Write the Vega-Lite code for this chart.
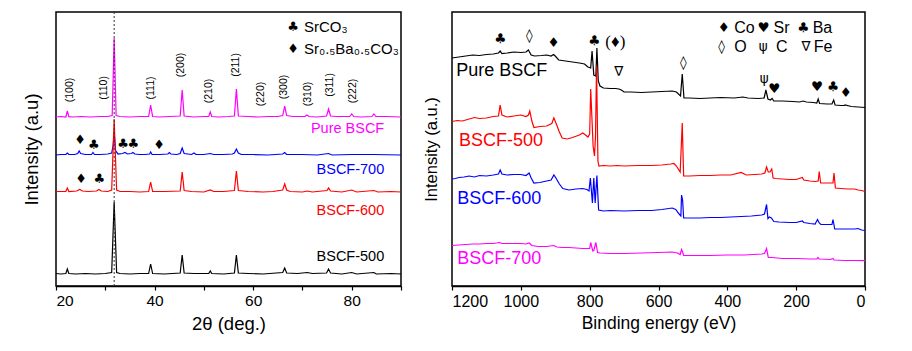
{
"$schema": "https://vega.github.io/schema/vega-lite/v6.json",
"padding": {"left": 21, "top": 10, "right": 5, "bottom": 5},
"bounds": "flush",
"spacing": 51,
"background": "white",
"config": {"font": "Liberation Sans", "view": {"stroke": "black", "strokeWidth": 1.5}, "axis": {"grid": false, "domainColor": "black", "tickColor": "black", "labelColor": "black", "titleColor": "black", "titleFontWeight": "normal", "labelFont": "Liberation Sans", "titleFont": "Liberation Sans"}},
"resolve": {"scale": {"color": "independent"}},
"datasets": {
"xrd": [
{"s":"Pure BSCF","x":20,"y":169},{"s":"Pure BSCF","x":21,"y":169.5},{"s":"Pure BSCF","x":22,"y":169},{"s":"Pure BSCF","x":22.3,"y":175},{"s":"Pure BSCF","x":22.6,"y":169.3},{"s":"Pure BSCF","x":23.5,"y":169},{"s":"Pure BSCF","x":25,"y":169.5},{"s":"Pure BSCF","x":27,"y":169},{"s":"Pure BSCF","x":29,"y":169.5},{"s":"Pure BSCF","x":30.5,"y":169.5},{"s":"Pure BSCF","x":31.4,"y":170.5},{"s":"Pure BSCF","x":31.8,"y":248},{"s":"Pure BSCF","x":32.2,"y":170.5},{"s":"Pure BSCF","x":33,"y":169.5},{"s":"Pure BSCF","x":35,"y":169},{"s":"Pure BSCF","x":37,"y":169.5},{"s":"Pure BSCF","x":38.8,"y":169.5},{"s":"Pure BSCF","x":39.2,"y":181},{"s":"Pure BSCF","x":39.6,"y":169.5},{"s":"Pure BSCF","x":41,"y":169},{"s":"Pure BSCF","x":43,"y":169.5},{"s":"Pure BSCF","x":45.2,"y":170},{"s":"Pure BSCF","x":45.6,"y":196},{"s":"Pure BSCF","x":46,"y":170},{"s":"Pure BSCF","x":48,"y":169},{"s":"Pure BSCF","x":50,"y":169.5},{"s":"Pure BSCF","x":51,"y":169.5},{"s":"Pure BSCF","x":51.3,"y":174},{"s":"Pure BSCF","x":51.6,"y":169.5},{"s":"Pure BSCF","x":53,"y":169},{"s":"Pure BSCF","x":55,"y":169.5},{"s":"Pure BSCF","x":56.2,"y":170},{"s":"Pure BSCF","x":56.6,"y":197},{"s":"Pure BSCF","x":57,"y":170},{"s":"Pure BSCF","x":59,"y":169.5},{"s":"Pure BSCF","x":61,"y":169},{"s":"Pure BSCF","x":63,"y":169.5},{"s":"Pure BSCF","x":65,"y":169.5},{"s":"Pure BSCF","x":66,"y":170.5},{"s":"Pure BSCF","x":66.4,"y":180},{"s":"Pure BSCF","x":66.8,"y":170.5},{"s":"Pure BSCF","x":68,"y":169.5},{"s":"Pure BSCF","x":70.5,"y":169.5},{"s":"Pure BSCF","x":70.9,"y":171},{"s":"Pure BSCF","x":71.3,"y":169.5},{"s":"Pure BSCF","x":73,"y":169},{"s":"Pure BSCF","x":74.9,"y":170},{"s":"Pure BSCF","x":75.3,"y":177},{"s":"Pure BSCF","x":75.7,"y":170},{"s":"Pure BSCF","x":77,"y":169.5},{"s":"Pure BSCF","x":79.6,"y":169.5},{"s":"Pure BSCF","x":80,"y":172},{"s":"Pure BSCF","x":80.4,"y":169.5},{"s":"Pure BSCF","x":82,"y":169},{"s":"Pure BSCF","x":84.1,"y":169.5},{"s":"Pure BSCF","x":84.5,"y":172},{"s":"Pure BSCF","x":84.9,"y":169.5},{"s":"Pure BSCF","x":87,"y":169.5},{"s":"Pure BSCF","x":90,"y":169},
{"s":"BSCF-700","x":20,"y":131},{"s":"BSCF-700","x":21,"y":131.5},{"s":"BSCF-700","x":22,"y":131.5},{"s":"BSCF-700","x":22.3,"y":133},{"s":"BSCF-700","x":22.6,"y":131.5},{"s":"BSCF-700","x":23.8,"y":131.5},{"s":"BSCF-700","x":24.4,"y":132.5},{"s":"BSCF-700","x":24.7,"y":135},{"s":"BSCF-700","x":25,"y":132.5},{"s":"BSCF-700","x":26,"y":131.5},{"s":"BSCF-700","x":27.2,"y":131.5},{"s":"BSCF-700","x":27.5,"y":133.5},{"s":"BSCF-700","x":27.8,"y":131.5},{"s":"BSCF-700","x":29,"y":131.5},{"s":"BSCF-700","x":30.5,"y":132},{"s":"BSCF-700","x":31.3,"y":133},{"s":"BSCF-700","x":31.6,"y":141},{"s":"BSCF-700","x":31.8,"y":153},{"s":"BSCF-700","x":32.1,"y":135},{"s":"BSCF-700","x":32.6,"y":132},{"s":"BSCF-700","x":33.5,"y":132.5},{"s":"BSCF-700","x":34,"y":133.5},{"s":"BSCF-700","x":34.5,"y":132},{"s":"BSCF-700","x":35.3,"y":132.5},{"s":"BSCF-700","x":35.6,"y":133.5},{"s":"BSCF-700","x":36,"y":132},{"s":"BSCF-700","x":37,"y":131.5},{"s":"BSCF-700","x":38,"y":131.5},{"s":"BSCF-700","x":39,"y":132},{"s":"BSCF-700","x":39.2,"y":134},{"s":"BSCF-700","x":39.5,"y":131.5},{"s":"BSCF-700","x":41,"y":131.5},{"s":"BSCF-700","x":42.7,"y":132},{"s":"BSCF-700","x":43,"y":133.5},{"s":"BSCF-700","x":43.3,"y":132},{"s":"BSCF-700","x":44.5,"y":131.5},{"s":"BSCF-700","x":45.2,"y":132.5},{"s":"BSCF-700","x":45.6,"y":138},{"s":"BSCF-700","x":46,"y":132.5},{"s":"BSCF-700","x":47.5,"y":131.5},{"s":"BSCF-700","x":48,"y":133},{"s":"BSCF-700","x":48.4,"y":131.5},{"s":"BSCF-700","x":50,"y":131.5},{"s":"BSCF-700","x":51.3,"y":132.5},{"s":"BSCF-700","x":52,"y":131.5},{"s":"BSCF-700","x":54,"y":131.5},{"s":"BSCF-700","x":55.8,"y":132},{"s":"BSCF-700","x":56.2,"y":133},{"s":"BSCF-700","x":56.6,"y":137},{"s":"BSCF-700","x":57,"y":133},{"s":"BSCF-700","x":57.6,"y":131.5},{"s":"BSCF-700","x":60,"y":131.5},{"s":"BSCF-700","x":63,"y":131},{"s":"BSCF-700","x":66,"y":132},{"s":"BSCF-700","x":66.4,"y":133.5},{"s":"BSCF-700","x":66.8,"y":131.5},{"s":"BSCF-700","x":70,"y":131.5},{"s":"BSCF-700","x":73,"y":131},{"s":"BSCF-700","x":75.3,"y":132.5},{"s":"BSCF-700","x":76,"y":131},{"s":"BSCF-700","x":80,"y":131.5},{"s":"BSCF-700","x":84.5,"y":131.5},{"s":"BSCF-700","x":90,"y":131},
{"s":"BSCF-600","x":20,"y":94.5},{"s":"BSCF-600","x":21,"y":94.5},{"s":"BSCF-600","x":22,"y":94.5},{"s":"BSCF-600","x":22.3,"y":98},{"s":"BSCF-600","x":22.6,"y":94.5},{"s":"BSCF-600","x":24.2,"y":95},{"s":"BSCF-600","x":24.8,"y":96.5},{"s":"BSCF-600","x":25.4,"y":95},{"s":"BSCF-600","x":26.5,"y":94.5},{"s":"BSCF-600","x":28.2,"y":95},{"s":"BSCF-600","x":28.7,"y":96.5},{"s":"BSCF-600","x":29.2,"y":95},{"s":"BSCF-600","x":30.5,"y":94.5},{"s":"BSCF-600","x":31.3,"y":96},{"s":"BSCF-600","x":31.8,"y":167},{"s":"BSCF-600","x":32.3,"y":96},{"s":"BSCF-600","x":33,"y":94.5},{"s":"BSCF-600","x":35,"y":94.5},{"s":"BSCF-600","x":37,"y":94},{"s":"BSCF-600","x":38.8,"y":94.5},{"s":"BSCF-600","x":39.2,"y":104},{"s":"BSCF-600","x":39.6,"y":94.5},{"s":"BSCF-600","x":42,"y":94.5},{"s":"BSCF-600","x":45.2,"y":95},{"s":"BSCF-600","x":45.6,"y":114},{"s":"BSCF-600","x":46,"y":95.5},{"s":"BSCF-600","x":47.5,"y":94.5},{"s":"BSCF-600","x":50,"y":94},{"s":"BSCF-600","x":51.3,"y":96},{"s":"BSCF-600","x":52,"y":94.5},{"s":"BSCF-600","x":54,"y":94.5},{"s":"BSCF-600","x":56.2,"y":95.5},{"s":"BSCF-600","x":56.6,"y":115},{"s":"BSCF-600","x":57,"y":95.5},{"s":"BSCF-600","x":59,"y":94.5},{"s":"BSCF-600","x":62,"y":94},{"s":"BSCF-600","x":64,"y":94.5},{"s":"BSCF-600","x":66,"y":96},{"s":"BSCF-600","x":66.4,"y":102},{"s":"BSCF-600","x":66.8,"y":96},{"s":"BSCF-600","x":67.5,"y":94.5},{"s":"BSCF-600","x":70,"y":94},{"s":"BSCF-600","x":71,"y":95},{"s":"BSCF-600","x":72,"y":94},{"s":"BSCF-600","x":75,"y":95.5},{"s":"BSCF-600","x":75.3,"y":98},{"s":"BSCF-600","x":75.7,"y":95},{"s":"BSCF-600","x":78,"y":94},{"s":"BSCF-600","x":80,"y":96},{"s":"BSCF-600","x":81,"y":94},{"s":"BSCF-600","x":84.5,"y":95.5},{"s":"BSCF-600","x":85.3,"y":94},{"s":"BSCF-600","x":88,"y":94.5},{"s":"BSCF-600","x":90,"y":94},
{"s":"BSCF-500","x":20,"y":12.5},{"s":"BSCF-500","x":21,"y":12},{"s":"BSCF-500","x":22,"y":12.5},{"s":"BSCF-500","x":22.3,"y":17},{"s":"BSCF-500","x":22.6,"y":12.5},{"s":"BSCF-500","x":24,"y":12},{"s":"BSCF-500","x":26,"y":12.5},{"s":"BSCF-500","x":28,"y":12},{"s":"BSCF-500","x":30,"y":12.5},{"s":"BSCF-500","x":31.3,"y":13.5},{"s":"BSCF-500","x":31.8,"y":84},{"s":"BSCF-500","x":32.3,"y":13.5},{"s":"BSCF-500","x":33,"y":12.5},{"s":"BSCF-500","x":35,"y":12},{"s":"BSCF-500","x":37,"y":12.5},{"s":"BSCF-500","x":38.8,"y":12.5},{"s":"BSCF-500","x":39.2,"y":22},{"s":"BSCF-500","x":39.6,"y":12.5},{"s":"BSCF-500","x":42,"y":12},{"s":"BSCF-500","x":45.2,"y":13},{"s":"BSCF-500","x":45.6,"y":31},{"s":"BSCF-500","x":46,"y":13},{"s":"BSCF-500","x":48,"y":12.5},{"s":"BSCF-500","x":51,"y":12.5},{"s":"BSCF-500","x":51.3,"y":15},{"s":"BSCF-500","x":51.6,"y":12.5},{"s":"BSCF-500","x":54,"y":12},{"s":"BSCF-500","x":56.2,"y":13},{"s":"BSCF-500","x":56.6,"y":31},{"s":"BSCF-500","x":57,"y":13},{"s":"BSCF-500","x":59,"y":12.5},{"s":"BSCF-500","x":62,"y":12},{"s":"BSCF-500","x":66,"y":13.5},{"s":"BSCF-500","x":66.4,"y":18},{"s":"BSCF-500","x":66.8,"y":13},{"s":"BSCF-500","x":69,"y":12.5},{"s":"BSCF-500","x":71,"y":13.5},{"s":"BSCF-500","x":72,"y":12.5},{"s":"BSCF-500","x":74.9,"y":13},{"s":"BSCF-500","x":75.3,"y":17},{"s":"BSCF-500","x":75.7,"y":13},{"s":"BSCF-500","x":78,"y":12},{"s":"BSCF-500","x":80,"y":13.5},{"s":"BSCF-500","x":81,"y":12},{"s":"BSCF-500","x":84.5,"y":13.5},{"s":"BSCF-500","x":85,"y":12},{"s":"BSCF-500","x":88,"y":12.5},{"s":"BSCF-500","x":90,"y":12}
],
"xrdText": [
{"k":"hkl","t":"(100)","x":22.8,"y":196},{"k":"hkl","t":"(110)","x":29.8,"y":198},{"k":"hkl","t":"(111)","x":39.3,"y":198},{"k":"hkl","t":"(200)","x":45.4,"y":221},{"k":"hkl","t":"(210)","x":51.1,"y":195},{"k":"hkl","t":"(211)","x":56.5,"y":221},{"k":"hkl","t":"(220)","x":61.6,"y":192},{"k":"hkl","t":"(300)","x":66.3,"y":199},{"k":"hkl","t":"(310)","x":71.1,"y":192},{"k":"hkl","t":"(311)","x":75.5,"y":201},{"k":"hkl","t":"(222)","x":80.2,"y":195},
{"k":"sym","t":"♦","x":24.9,"y":146},{"k":"sym","t":"♣","x":27.7,"y":141.3},{"k":"sym","t":"♣","x":33.6,"y":142.3},{"k":"sym","t":"♣","x":35.7,"y":142.3},{"k":"sym","t":"♦","x":40.9,"y":140.7},{"k":"sym","t":"♦","x":25.1,"y":107},{"k":"sym","t":"♣","x":28.8,"y":107},{"k":"sym","t":"♣","x":68.1,"y":259},{"k":"sym","t":"♦","x":68.1,"y":237},
{"k":"leg","t":"SrCO₃","x":70.3,"y":259},{"k":"leg","t":"Sr₀.₅Ba₀.₅CO₃","x":70.3,"y":237},
{"k":"lab","t":"Pure BSCF","s":"Pure BSCF","x":86.6,"y":157},{"k":"lab","t":"BSCF-700","s":"BSCF-700","x":86.6,"y":116.5},{"k":"lab","t":"BSCF-600","s":"BSCF-600","x":86.6,"y":75},{"k":"lab","t":"BSCF-500","s":"BSCF-500","x":86.6,"y":29}
],
"xps": [
{"s":"Pure BSCF","x":1200,"y":228},{"s":"Pure BSCF","x":1180,"y":229},{"s":"Pure BSCF","x":1160,"y":230},{"s":"Pure BSCF","x":1140,"y":231},{"s":"Pure BSCF","x":1120,"y":230.5},{"s":"Pure BSCF","x":1100,"y":231.5},{"s":"Pure BSCF","x":1080,"y":232},{"s":"Pure BSCF","x":1065,"y":233},{"s":"Pure BSCF","x":1060,"y":235},{"s":"Pure BSCF","x":1055,"y":232.5},{"s":"Pure BSCF","x":1040,"y":233},{"s":"Pure BSCF","x":1020,"y":234},{"s":"Pure BSCF","x":1000,"y":233.5},{"s":"Pure BSCF","x":985,"y":234},{"s":"Pure BSCF","x":978,"y":236},{"s":"Pure BSCF","x":970,"y":231},{"s":"Pure BSCF","x":960,"y":230},{"s":"Pure BSCF","x":940,"y":230.5},{"s":"Pure BSCF","x":925,"y":231},{"s":"Pure BSCF","x":912,"y":230},{"s":"Pure BSCF","x":905,"y":231.5},{"s":"Pure BSCF","x":900,"y":230},{"s":"Pure BSCF","x":890,"y":226},{"s":"Pure BSCF","x":870,"y":225},{"s":"Pure BSCF","x":850,"y":224},{"s":"Pure BSCF","x":830,"y":223},{"s":"Pure BSCF","x":815,"y":222},{"s":"Pure BSCF","x":805,"y":219},{"s":"Pure BSCF","x":797,"y":218},{"s":"Pure BSCF","x":793,"y":235},{"s":"Pure BSCF","x":788,"y":211},{"s":"Pure BSCF","x":782,"y":210},{"s":"Pure BSCF","x":779,"y":238},{"s":"Pure BSCF","x":775,"y":205},{"s":"Pure BSCF","x":770,"y":200},{"s":"Pure BSCF","x":760,"y":198},{"s":"Pure BSCF","x":740,"y":197.5},{"s":"Pure BSCF","x":725,"y":197.5},{"s":"Pure BSCF","x":715,"y":197},{"s":"Pure BSCF","x":708,"y":196},{"s":"Pure BSCF","x":700,"y":194},{"s":"Pure BSCF","x":680,"y":194},{"s":"Pure BSCF","x":650,"y":193.5},{"s":"Pure BSCF","x":620,"y":194},{"s":"Pure BSCF","x":590,"y":194.5},{"s":"Pure BSCF","x":560,"y":195},{"s":"Pure BSCF","x":548,"y":194},{"s":"Pure BSCF","x":536,"y":190},{"s":"Pure BSCF","x":531,"y":212},{"s":"Pure BSCF","x":526,"y":188},{"s":"Pure BSCF","x":510,"y":188},{"s":"Pure BSCF","x":480,"y":187.5},{"s":"Pure BSCF","x":450,"y":188},{"s":"Pure BSCF","x":420,"y":188.5},{"s":"Pure BSCF","x":380,"y":188},{"s":"Pure BSCF","x":355,"y":189},{"s":"Pure BSCF","x":340,"y":188},{"s":"Pure BSCF","x":310,"y":187.5},{"s":"Pure BSCF","x":293,"y":188},{"s":"Pure BSCF","x":288,"y":196},{"s":"Pure BSCF","x":282,"y":187},{"s":"Pure BSCF","x":275,"y":186},{"s":"Pure BSCF","x":270,"y":187.5},{"s":"Pure BSCF","x":265,"y":185},{"s":"Pure BSCF","x":240,"y":185},{"s":"Pure BSCF","x":210,"y":184.5},{"s":"Pure BSCF","x":190,"y":184},{"s":"Pure BSCF","x":180,"y":185},{"s":"Pure BSCF","x":170,"y":184},{"s":"Pure BSCF","x":150,"y":183.5},{"s":"Pure BSCF","x":140,"y":183},{"s":"Pure BSCF","x":136,"y":187},{"s":"Pure BSCF","x":132,"y":182.5},{"s":"Pure BSCF","x":110,"y":182},{"s":"Pure BSCF","x":96,"y":182},{"s":"Pure BSCF","x":91,"y":186},{"s":"Pure BSCF","x":87,"y":181},{"s":"Pure BSCF","x":70,"y":180.5},{"s":"Pure BSCF","x":60,"y":180.5},{"s":"Pure BSCF","x":58,"y":181},{"s":"Pure BSCF","x":40,"y":179.5},{"s":"Pure BSCF","x":20,"y":179},{"s":"Pure BSCF","x":0,"y":178.5},
{"s":"BSCF-500","x":1200,"y":164.5},{"s":"BSCF-500","x":1185,"y":165.5},{"s":"BSCF-500","x":1170,"y":165},{"s":"BSCF-500","x":1150,"y":167},{"s":"BSCF-500","x":1135,"y":168.5},{"s":"BSCF-500","x":1120,"y":167.5},{"s":"BSCF-500","x":1100,"y":168},{"s":"BSCF-500","x":1080,"y":169.5},{"s":"BSCF-500","x":1065,"y":170},{"s":"BSCF-500","x":1060,"y":181},{"s":"BSCF-500","x":1055,"y":171},{"s":"BSCF-500","x":1040,"y":169},{"s":"BSCF-500","x":1020,"y":170},{"s":"BSCF-500","x":1000,"y":171},{"s":"BSCF-500","x":985,"y":169.5},{"s":"BSCF-500","x":978,"y":171},{"s":"BSCF-500","x":974,"y":175},{"s":"BSCF-500","x":968,"y":165},{"s":"BSCF-500","x":962,"y":158.5},{"s":"BSCF-500","x":945,"y":159.5},{"s":"BSCF-500","x":925,"y":160},{"s":"BSCF-500","x":910,"y":162.5},{"s":"BSCF-500","x":904,"y":168},{"s":"BSCF-500","x":898,"y":163},{"s":"BSCF-500","x":888,"y":154},{"s":"BSCF-500","x":880,"y":148},{"s":"BSCF-500","x":865,"y":147},{"s":"BSCF-500","x":850,"y":148.5},{"s":"BSCF-500","x":830,"y":151},{"s":"BSCF-500","x":820,"y":153},{"s":"BSCF-500","x":812,"y":151},{"s":"BSCF-500","x":805,"y":149},{"s":"BSCF-500","x":800,"y":152},{"s":"BSCF-500","x":797,"y":197},{"s":"BSCF-500","x":790,"y":140},{"s":"BSCF-500","x":786,"y":130},{"s":"BSCF-500","x":783,"y":150},{"s":"BSCF-500","x":780,"y":220},{"s":"BSCF-500","x":776,"y":125},{"s":"BSCF-500","x":773,"y":120},{"s":"BSCF-500","x":760,"y":120.5},{"s":"BSCF-500","x":740,"y":120},{"s":"BSCF-500","x":720,"y":120.5},{"s":"BSCF-500","x":700,"y":120},{"s":"BSCF-500","x":660,"y":120.5},{"s":"BSCF-500","x":620,"y":120.5},{"s":"BSCF-500","x":590,"y":121},{"s":"BSCF-500","x":565,"y":122},{"s":"BSCF-500","x":555,"y":122.5},{"s":"BSCF-500","x":548,"y":120},{"s":"BSCF-500","x":537,"y":114},{"s":"BSCF-500","x":531,"y":163},{"s":"BSCF-500","x":527,"y":110},{"s":"BSCF-500","x":510,"y":110},{"s":"BSCF-500","x":480,"y":110.5},{"s":"BSCF-500","x":450,"y":110.5},{"s":"BSCF-500","x":420,"y":111},{"s":"BSCF-500","x":390,"y":111},{"s":"BSCF-500","x":360,"y":113.5},{"s":"BSCF-500","x":345,"y":111},{"s":"BSCF-500","x":320,"y":111.5},{"s":"BSCF-500","x":300,"y":112},{"s":"BSCF-500","x":291,"y":113},{"s":"BSCF-500","x":286,"y":119},{"s":"BSCF-500","x":281,"y":114},{"s":"BSCF-500","x":276,"y":114},{"s":"BSCF-500","x":271,"y":117},{"s":"BSCF-500","x":267,"y":108},{"s":"BSCF-500","x":260,"y":107.5},{"s":"BSCF-500","x":240,"y":107},{"s":"BSCF-500","x":220,"y":106.5},{"s":"BSCF-500","x":200,"y":106.5},{"s":"BSCF-500","x":182,"y":108.5},{"s":"BSCF-500","x":178,"y":106},{"s":"BSCF-500","x":160,"y":105},{"s":"BSCF-500","x":145,"y":104.5},{"s":"BSCF-500","x":136,"y":105},{"s":"BSCF-500","x":133,"y":114.5},{"s":"BSCF-500","x":129,"y":103},{"s":"BSCF-500","x":110,"y":103},{"s":"BSCF-500","x":100,"y":103},{"s":"BSCF-500","x":93,"y":103},{"s":"BSCF-500","x":90,"y":113},{"s":"BSCF-500","x":86,"y":98},{"s":"BSCF-500","x":70,"y":97.5},{"s":"BSCF-500","x":50,"y":97},{"s":"BSCF-500","x":30,"y":97},{"s":"BSCF-500","x":20,"y":96},{"s":"BSCF-500","x":10,"y":95.5},{"s":"BSCF-500","x":0,"y":94.5},
{"s":"BSCF-600","x":1200,"y":107},{"s":"BSCF-600","x":1190,"y":107.5},{"s":"BSCF-600","x":1180,"y":108.5},{"s":"BSCF-600","x":1165,"y":109},{"s":"BSCF-600","x":1150,"y":110},{"s":"BSCF-600","x":1135,"y":109},{"s":"BSCF-600","x":1120,"y":110.5},{"s":"BSCF-600","x":1100,"y":110},{"s":"BSCF-600","x":1080,"y":111},{"s":"BSCF-600","x":1065,"y":112},{"s":"BSCF-600","x":1060,"y":116},{"s":"BSCF-600","x":1055,"y":112},{"s":"BSCF-600","x":1040,"y":111},{"s":"BSCF-600","x":1020,"y":111.5},{"s":"BSCF-600","x":1000,"y":111.5},{"s":"BSCF-600","x":985,"y":110.5},{"s":"BSCF-600","x":976,"y":113},{"s":"BSCF-600","x":970,"y":108},{"s":"BSCF-600","x":962,"y":103},{"s":"BSCF-600","x":945,"y":103.5},{"s":"BSCF-600","x":925,"y":105},{"s":"BSCF-600","x":912,"y":106},{"s":"BSCF-600","x":904,"y":111},{"s":"BSCF-600","x":898,"y":108},{"s":"BSCF-600","x":888,"y":102},{"s":"BSCF-600","x":878,"y":97.5},{"s":"BSCF-600","x":860,"y":96},{"s":"BSCF-600","x":840,"y":97},{"s":"BSCF-600","x":820,"y":97.5},{"s":"BSCF-600","x":808,"y":96.5},{"s":"BSCF-600","x":802,"y":95},{"s":"BSCF-600","x":798,"y":108},{"s":"BSCF-600","x":792,"y":83},{"s":"BSCF-600","x":788,"y":108},{"s":"BSCF-600","x":784,"y":83},{"s":"BSCF-600","x":779,"y":110.5},{"s":"BSCF-600","x":774,"y":76},{"s":"BSCF-600","x":760,"y":75},{"s":"BSCF-600","x":740,"y":75.5},{"s":"BSCF-600","x":700,"y":75},{"s":"BSCF-600","x":660,"y":75.5},{"s":"BSCF-600","x":620,"y":75.5},{"s":"BSCF-600","x":590,"y":76.5},{"s":"BSCF-600","x":560,"y":78},{"s":"BSCF-600","x":550,"y":76.5},{"s":"BSCF-600","x":540,"y":72},{"s":"BSCF-600","x":535,"y":70},{"s":"BSCF-600","x":533,"y":91},{"s":"BSCF-600","x":530,"y":86},{"s":"BSCF-600","x":527,"y":68},{"s":"BSCF-600","x":510,"y":68},{"s":"BSCF-600","x":480,"y":68},{"s":"BSCF-600","x":450,"y":68.5},{"s":"BSCF-600","x":420,"y":68.5},{"s":"BSCF-600","x":390,"y":69},{"s":"BSCF-600","x":360,"y":69.5},{"s":"BSCF-600","x":330,"y":70},{"s":"BSCF-600","x":300,"y":71},{"s":"BSCF-600","x":292,"y":72},{"s":"BSCF-600","x":286,"y":81.5},{"s":"BSCF-600","x":282,"y":67.5},{"s":"BSCF-600","x":278,"y":69},{"s":"BSCF-600","x":272,"y":68},{"s":"BSCF-600","x":265,"y":64.5},{"s":"BSCF-600","x":250,"y":64},{"s":"BSCF-600","x":220,"y":63.5},{"s":"BSCF-600","x":200,"y":63.5},{"s":"BSCF-600","x":182,"y":65},{"s":"BSCF-600","x":178,"y":63.5},{"s":"BSCF-600","x":160,"y":62.5},{"s":"BSCF-600","x":145,"y":62},{"s":"BSCF-600","x":138,"y":66.5},{"s":"BSCF-600","x":133,"y":63},{"s":"BSCF-600","x":128,"y":61.5},{"s":"BSCF-600","x":110,"y":61.5},{"s":"BSCF-600","x":96,"y":61.5},{"s":"BSCF-600","x":93,"y":66.5},{"s":"BSCF-600","x":88,"y":57},{"s":"BSCF-600","x":70,"y":57},{"s":"BSCF-600","x":50,"y":57},{"s":"BSCF-600","x":30,"y":57},{"s":"BSCF-600","x":20,"y":57.5},{"s":"BSCF-600","x":10,"y":56},{"s":"BSCF-600","x":0,"y":55.5},
{"s":"BSCF-700","x":1200,"y":40.5},{"s":"BSCF-700","x":1180,"y":41},{"s":"BSCF-700","x":1160,"y":41.5},{"s":"BSCF-700","x":1140,"y":42},{"s":"BSCF-700","x":1120,"y":42},{"s":"BSCF-700","x":1100,"y":42.5},{"s":"BSCF-700","x":1080,"y":42.5},{"s":"BSCF-700","x":1062,"y":43.5},{"s":"BSCF-700","x":1055,"y":42.5},{"s":"BSCF-700","x":1030,"y":42.5},{"s":"BSCF-700","x":1000,"y":42.5},{"s":"BSCF-700","x":985,"y":42},{"s":"BSCF-700","x":976,"y":43},{"s":"BSCF-700","x":968,"y":40.5},{"s":"BSCF-700","x":950,"y":39.5},{"s":"BSCF-700","x":925,"y":39.5},{"s":"BSCF-700","x":905,"y":40.5},{"s":"BSCF-700","x":895,"y":39},{"s":"BSCF-700","x":880,"y":38.5},{"s":"BSCF-700","x":860,"y":38.5},{"s":"BSCF-700","x":840,"y":38},{"s":"BSCF-700","x":820,"y":37.5},{"s":"BSCF-700","x":800,"y":37.5},{"s":"BSCF-700","x":797,"y":43.5},{"s":"BSCF-700","x":791,"y":35},{"s":"BSCF-700","x":788,"y":35.5},{"s":"BSCF-700","x":782,"y":43.5},{"s":"BSCF-700","x":777,"y":33.5},{"s":"BSCF-700","x":770,"y":33},{"s":"BSCF-700","x":740,"y":32.5},{"s":"BSCF-700","x":700,"y":32.5},{"s":"BSCF-700","x":650,"y":33},{"s":"BSCF-700","x":600,"y":33.5},{"s":"BSCF-700","x":560,"y":34},{"s":"BSCF-700","x":545,"y":33},{"s":"BSCF-700","x":537,"y":31.5},{"s":"BSCF-700","x":533,"y":36.5},{"s":"BSCF-700","x":530,"y":34},{"s":"BSCF-700","x":527,"y":30.5},{"s":"BSCF-700","x":500,"y":30.5},{"s":"BSCF-700","x":450,"y":30.5},{"s":"BSCF-700","x":400,"y":31},{"s":"BSCF-700","x":350,"y":31},{"s":"BSCF-700","x":300,"y":32},{"s":"BSCF-700","x":292,"y":32.5},{"s":"BSCF-700","x":286,"y":37.5},{"s":"BSCF-700","x":281,"y":28.5},{"s":"BSCF-700","x":270,"y":28.5},{"s":"BSCF-700","x":240,"y":27.5},{"s":"BSCF-700","x":200,"y":27.5},{"s":"BSCF-700","x":160,"y":27},{"s":"BSCF-700","x":140,"y":27},{"s":"BSCF-700","x":137,"y":28.5},{"s":"BSCF-700","x":133,"y":27},{"s":"BSCF-700","x":100,"y":26.5},{"s":"BSCF-700","x":93,"y":27.5},{"s":"BSCF-700","x":90,"y":26},{"s":"BSCF-700","x":60,"y":25.5},{"s":"BSCF-700","x":30,"y":25.5},{"s":"BSCF-700","x":0,"y":25.3}
],
"xpsText": [
{"k":"sym","t":"♣","x":1060,"y":247.3},{"k":"sym","t":"◊","x":975,"y":249.7},{"k":"sym","t":"♦","x":904.6,"y":243},{"k":"sym","t":"♣","x":786.6,"y":244.7},{"k":"sym","t":"∇","x":715.7,"y":214},{"k":"sym","t":"◊","x":528,"y":223},{"k":"sym","t":"ψ","x":292.6,"y":207},{"k":"sym","t":"♥","x":263.6,"y":197},{"k":"sym","t":"♥","x":139,"y":198.7},{"k":"sym","t":"♣","x":93,"y":198.7},{"k":"sym","t":"♦","x":56,"y":193},
{"k":"sym","t":"♦","x":410.6,"y":258},{"k":"sym","t":"♥","x":294.5,"y":258},{"k":"sym","t":"♣","x":179.4,"y":258},{"k":"sym","t":"◊","x":416.5,"y":239},{"k":"sym","t":"ψ","x":295.6,"y":239},{"k":"sym","t":"∇","x":171.5,"y":239},
{"k":"paren","t":"(♦)","x":725.5,"y":244},
{"k":"leg","t":"Co","x":380,"y":258},{"k":"leg","t":"Sr","x":265.5,"y":258},{"k":"leg","t":"Ba","x":152,"y":258},{"k":"leg","t":"O","x":380,"y":239},{"k":"leg","t":"C","x":258.7,"y":239},{"k":"leg","t":"Fe","x":149,"y":239},
{"k":"lab","t":"Pure BSCF","s":"Pure BSCF","x":1188,"y":215},{"k":"lab","t":"BSCF-500","s":"BSCF-500","x":1180,"y":145.3},{"k":"lab","t":"BSCF-600","s":"BSCF-600","x":1185,"y":87},{"k":"lab","t":"BSCF-700","s":"BSCF-700","x":1185,"y":27}
]
},
"hconcat": [
{
"width": 345, "height": 274,
"layer": [
{"data": {"name": "xrd"}, "mark": {"type": "line", "strokeWidth": 1.2},
 "encoding": {
  "x": {"field": "x", "type": "quantitative", "scale": {"domain": [20, 90], "nice": false, "zero": false},
        "axis": {"title": "2θ (deg.)", "values": [20,30,40,50,60,70,80,90], "labelExpr": "datum.value % 20 == 0 && datum.value < 90 ? datum.label : ''", "tickSize": 4, "tickWidth": 1.2, "domainWidth": 1.5, "labelFontSize": 15.5, "labelPadding": 3, "titleFontSize": 18.5, "titlePadding": 6}},
  "y": {"field": "y", "type": "quantitative", "scale": {"domain": [0, 274], "nice": false},
        "axis": {"title": "Intensity (a.u)", "labels": false, "ticks": false, "domain": false, "titleFontSize": 18.5, "titlePadding": 15}},
  "color": {"field": "s", "type": "nominal", "scale": {"domain": ["Pure BSCF","BSCF-700","BSCF-600","BSCF-500"], "range": ["#ff00ff","#0000ff","#ff0000","#000000"]}, "legend": null}
 }},
{"data": {"values": [{}]}, "mark": {"type": "rule", "strokeDash": [2, 2], "color": "#333333", "strokeWidth": 1}, "encoding": {"x": {"datum": 31.8, "type": "quantitative"}}},
{"data": {"name": "xrdText"}, "transform": [{"filter": "datum.k == 'hkl'"}], "mark": {"type": "text", "angle": 270, "fontSize": 10.5, "color": "black", "align": "center", "baseline": "middle"},
 "encoding": {"x": {"field": "x", "type": "quantitative"}, "y": {"field": "y", "type": "quantitative"}, "text": {"field": "t"}}},
{"data": {"name": "xrdText"}, "transform": [{"filter": "datum.k == 'sym'"}], "mark": {"type": "text", "fontSize": 13, "font": "DejaVu Sans", "color": "black", "align": "center", "baseline": "middle"},
 "encoding": {"x": {"field": "x", "type": "quantitative"}, "y": {"field": "y", "type": "quantitative"}, "text": {"field": "t"}}},
{"data": {"name": "xrdText"}, "transform": [{"filter": "datum.k == 'leg'"}], "mark": {"type": "text", "fontSize": 15, "color": "black", "align": "left", "baseline": "middle"},
 "encoding": {"x": {"field": "x", "type": "quantitative"}, "y": {"field": "y", "type": "quantitative"}, "text": {"field": "t"}}},
{"data": {"name": "xrdText"}, "transform": [{"filter": "datum.k == 'lab'"}], "mark": {"type": "text", "fontSize": 14.5, "align": "right", "baseline": "middle"},
 "encoding": {"x": {"field": "x", "type": "quantitative"}, "y": {"field": "y", "type": "quantitative"}, "text": {"field": "t"}, "color": {"field": "s", "type": "nominal", "legend": null}}}
]
},
{
"width": 413, "height": 274,
"layer": [
{"data": {"name": "xps"}, "mark": {"type": "line", "strokeWidth": 1.2},
 "encoding": {
  "x": {"field": "x", "type": "quantitative", "scale": {"domain": [0, 1200], "reverse": true, "nice": false, "zero": false},
        "axis": {"title": "Binding energy (eV)", "values": [0,100,200,300,400,500,600,700,800,900,1000,1100,1200], "format": "d", "labelExpr": "datum.value % 200 == 0 ? datum.label : ''", "tickSize": 4, "tickWidth": 1.2, "domainWidth": 1.5, "labelFontSize": 16, "labelPadding": 3, "titleFontSize": 17.5, "titlePadding": 5}},
  "y": {"field": "y", "type": "quantitative", "scale": {"domain": [0, 274], "nice": false},
        "axis": {"title": "Intensity (a.u.)", "labels": false, "ticks": false, "domain": false, "titleFontSize": 16.5, "titlePadding": 13}},
  "color": {"field": "s", "type": "nominal", "scale": {"domain": ["Pure BSCF","BSCF-500","BSCF-600","BSCF-700"], "range": ["#000000","#ff0000","#0000ff","#ff00ff"]}, "legend": null}
 }},
{"data": {"name": "xpsText"}, "transform": [{"filter": "datum.k == 'sym'"}], "mark": {"type": "text", "fontSize": 13.5, "font": "DejaVu Sans", "color": "black", "align": "center", "baseline": "middle"},
 "encoding": {"x": {"field": "x", "type": "quantitative"}, "y": {"field": "y", "type": "quantitative"}, "text": {"field": "t"}}},
{"data": {"name": "xpsText"}, "transform": [{"filter": "datum.k == 'paren'"}], "mark": {"type": "text", "fontSize": 17, "font": "Liberation Serif", "color": "black", "align": "center", "baseline": "middle"},
 "encoding": {"x": {"field": "x", "type": "quantitative"}, "y": {"field": "y", "type": "quantitative"}, "text": {"field": "t"}}},
{"data": {"name": "xpsText"}, "transform": [{"filter": "datum.k == 'leg'"}], "mark": {"type": "text", "fontSize": 16, "color": "black", "align": "left", "baseline": "middle"},
 "encoding": {"x": {"field": "x", "type": "quantitative"}, "y": {"field": "y", "type": "quantitative"}, "text": {"field": "t"}}},
{"data": {"name": "xpsText"}, "transform": [{"filter": "datum.k == 'lab'"}], "mark": {"type": "text", "fontSize": 18, "align": "left", "baseline": "middle"},
 "encoding": {"x": {"field": "x", "type": "quantitative"}, "y": {"field": "y", "type": "quantitative"}, "text": {"field": "t"}, "color": {"field": "s", "type": "nominal", "legend": null}}}
]
}
]
}
